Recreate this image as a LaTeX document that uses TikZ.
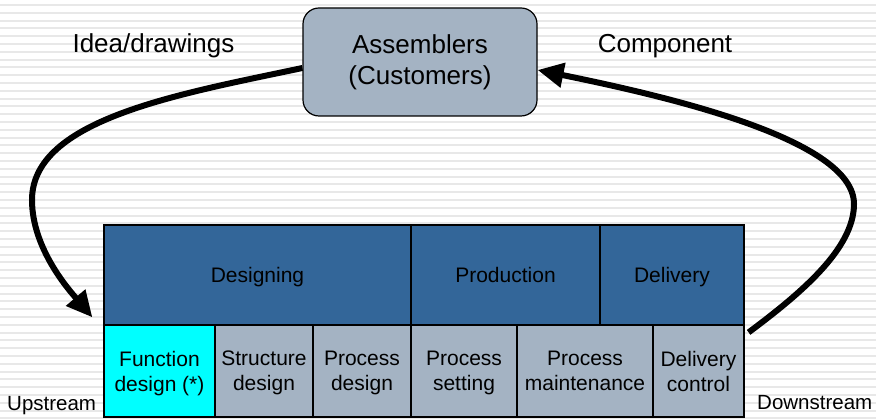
\documentclass[tikz,border=0pt]{standalone}
\usepackage{fontspec}
\setmainfont{Liberation Sans}
\usetikzlibrary{arrows.meta}
\definecolor{darkblue}{RGB}{51,102,153}
\definecolor{grayblue}{RGB}{164,179,195}
\definecolor{brightcyan}{RGB}{0,255,255}
\begin{document}
\begin{tikzpicture}[x=1pt,y=1pt,
    cell/.style={draw,line width=1.2pt,inner sep=0pt,align=center,
        font=\fontsize{21}{25}\selectfont},
    stage/.style={cell,fill=darkblue,minimum height=100pt,
        text height=20pt,text depth=4pt},
    task/.style={cell,fill=grayblue,minimum height=92pt,text depth=-4pt},
    lbl/.style={font=\fontsize{26}{31}\selectfont},
    side/.style={font=\fontsize{20.5}{25}\selectfont,inner sep=0pt},
    stripe/.style={line width=2pt,gray!18},
    flow/.style={line width=6pt,-{Triangle[length=26pt,width=24pt]}}]

    \useasboundingbox (0,0) rectangle (876,419);
    \foreach \k in {0,...,53}
        \draw[stripe] (0,{414-7.8*\k}) -- (876,{414-7.8*\k});

    \node[draw,line width=1.2pt,fill=grayblue,rounded corners=16pt,
        minimum width=234pt,minimum height=108pt,align=center,lbl] (asm)
        at (420,357) {Assemblers\\(Customers)};

    \node[stage,minimum width=307pt] (des) at (257.5,144) {Designing};
    \node[stage,minimum width=189pt] (prod) at (505.5,144) {Production};
    \node[stage,minimum width=144pt] (deliv) at (672,144) {Delivery};

    \node[task,fill=brightcyan,minimum width=111pt] (fun) at (159.5,48) {Function\\design (*)};
    \node[task,minimum width=98pt] (struct) at (264,48) {Structure\\design};
    \node[task,minimum width=98pt] (pdes) at (362,48) {Process\\design};
    \node[task,minimum width=106pt] (pset) at (464,48) {Process\\setting};
    \node[task,minimum width=136pt] (pmain) at (585,48) {Process\\maintenance};
    \node[task,minimum width=91pt] (dctl) at (698.5,48) {Delivery\\control};

    \node[lbl,anchor=base] (idea) at (153.5,366) {Idea/drawings};
    \node[lbl,anchor=base] (comp) at (665,366) {Component};
    \node[side,anchor=base west] (up) at (7,8) {Upstream};
    \node[side,anchor=base west] (down) at (757,9) {Downstream};

    \draw[flow] ([yshift=-6pt]asm.west) .. controls (180,325) and (32,300) ..
        (32,219) .. controls (32,170) and (70,128) ..
        ([shift={(-11pt,7pt)}]fun.north west);
    \draw[flow] ([shift={(4pt,-8pt)}]dctl.north east) .. controls (800,125) and
        (854,170) .. (854,215) .. controls (854,280) and (665,323) ..
        ([yshift=-8pt]asm.east);

\end{tikzpicture}
\end{document}
